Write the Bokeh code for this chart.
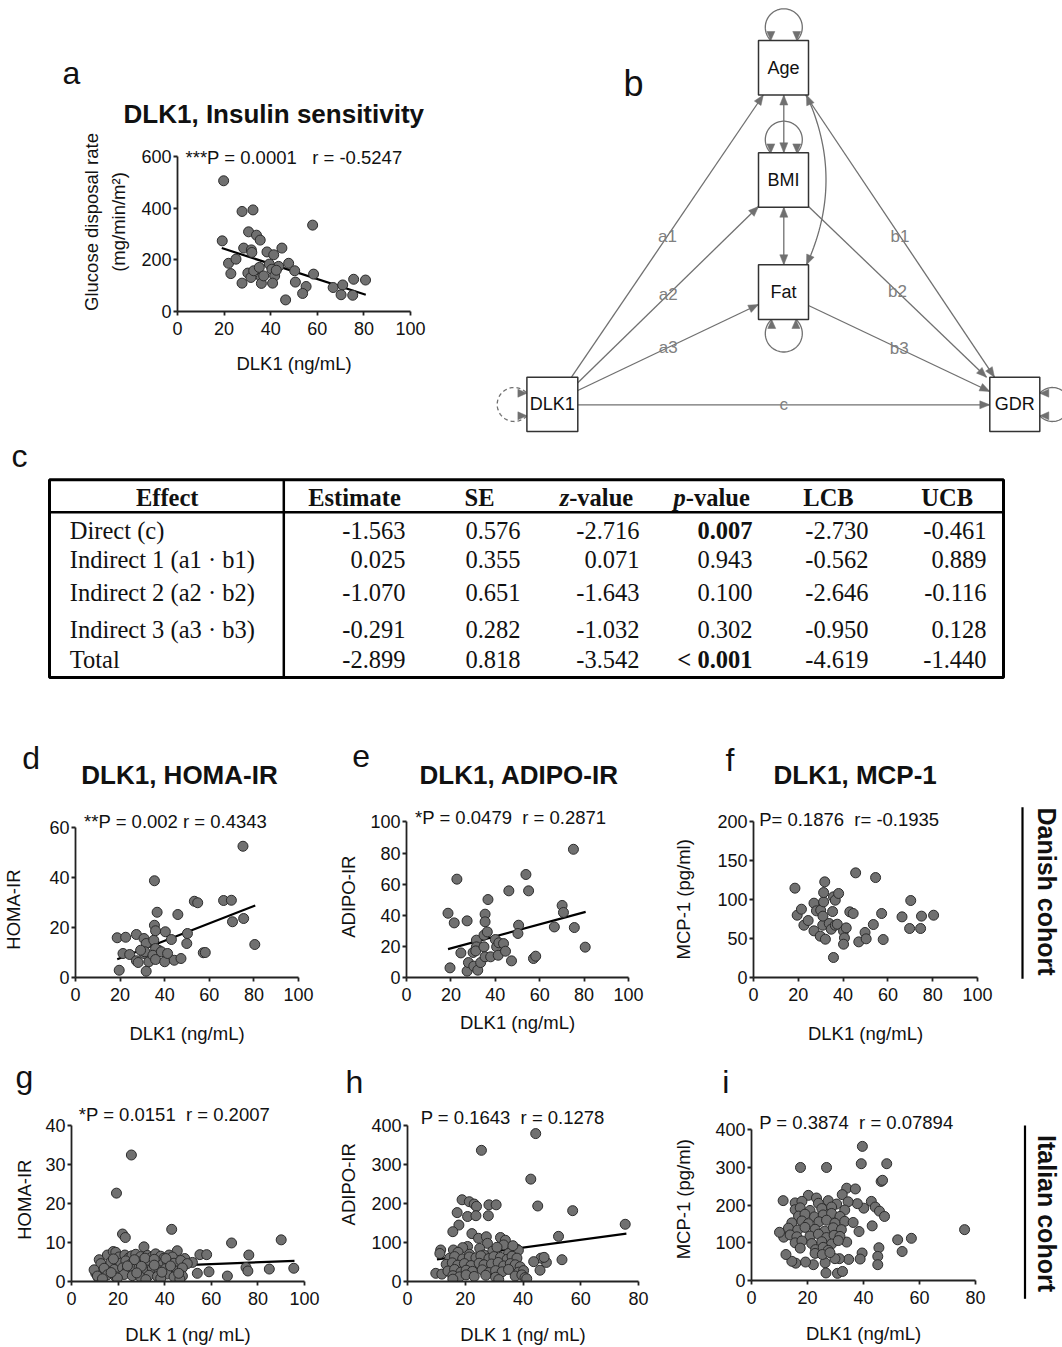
import math
import numpy as np
from bokeh.plotting import figure
from bokeh.models import Range1d, FixedTicker
from bokeh.layouts import column, row
from bokeh.embed import file_html
from bokeh.resources import INLINE
from bokeh.core.properties import value

SANS = "Liberation Sans"
SERIF = "Liberation Serif"
INK = "#111111"
DOT_FILL = "#707070"
DOT_LINE = "#2c2c2c"
EDGE = "#707070"
NB = "\u00a0"

# ---------------- data ----------------
# a: Danish cohort, DLK1 vs glucose disposal rate
a_x = [19.8, 27.7, 32.4, 30.5, 33.9, 35.5, 19.2, 58.0, 28.4, 31.7, 31.9, 38.4, 41.3, 44.8, 21.9,
       25.1, 22.9, 43.4, 47.7, 50.3, 58.4, 27.7, 30.2, 31.5, 32.7, 35.1, 36.0, 36.0, 37.0, 39.4,
       40.5, 41.7, 42.4, 40.8, 50.6, 55.2, 53.7, 46.4, 66.8, 70.9, 70.2, 75.2, 75.6, 80.7]
a_y = [507, 388, 394, 309, 296, 277, 274, 335, 246, 239, 229, 231, 220, 246, 187,
       203, 147, 175, 187, 158, 145, 110, 149, 132, 158, 171, 132, 109, 138, 184,
       164, 138, 160, 110, 114, 97, 70, 45, 93, 103, 65, 63, 125, 122]
a_fit_x = [19.0, 80.8]
a_fit_y = [246, 65]

# d: HOMA-IR (Danish)
d_x = [18.7, 22.5, 19.6, 21.3, 24.3, 27.3, 27.3, 28.1, 30.7, 30.7, 31.7, 31.7, 31.1, 32.9, 35.1,
       35.4, 35.4, 35.9, 36.6, 37.3, 35.9, 34.7, 35.9, 38.5, 40.3, 40.0, 41.3, 43.0, 44.3, 45.9,
       47.3, 50.2, 49.9, 53.3, 54.8, 57.3, 58.2, 66.4, 69.9, 70.4, 75.1, 75.4, 80.4, 29.2]
d_y = [15.9, 16.1, 2.9, 9.6, 9.2, 17.2, 6.7, 6.0, 15.6, 9.6, 13.6, 2.5, 10.3, 6.3, 14.9,
       38.7, 20.9, 18.7, 26.1, 10.9, 11.6, 8.9, 7.2, 10.3, 18.3, 6.3, 9.6, 15.2, 6.9, 25.2,
       7.6, 17.6, 13.6, 30.5, 29.9, 9.9, 10.0, 30.8, 30.9, 22.3, 52.5, 23.6, 13.2, 10.9]
d_fit_x = [18.7, 80.6]
d_fit_y = [7.3, 28.8]

# e: ADIPO-IR (Danish)
e_x = [18.7, 19.6, 21.5, 22.7, 24.5, 27.3, 27.3, 27.9, 30.0, 30.3, 31.5, 31.5, 31.2, 32.1, 33.4,
       34.9, 34.9, 35.4, 35.4, 36.4, 36.7, 35.4, 37.9, 40.0, 40.6, 41.3, 41.6, 43.7, 44.6, 46.1,
       47.3, 50.5, 50.2, 53.8, 55.0, 57.2, 58.2, 66.6, 70.1, 70.7, 75.2, 75.6, 80.5]
e_y = [41.3, 6.2, 35.1, 63.2, 15.8, 36.4, 4.1, 9.6, 16.1, 7.3, 24.0, 19.7, 17.1, 4.7, 9.6,
       19.7, 27.2, 40.7, 35.8, 29.3, 50.1, 13.3, 13.3, 24.4, 19.7, 14.3, 22.3, 21.8, 16.9, 55.7,
       10.7, 33.6, 28.3, 66.2, 55.7, 12.2, 13.7, 32.5, 46.3, 41.8, 82.4, 32.1, 19.5]
e_fit_x = [18.7, 80.7]
e_fit_y = [18.2, 42.2]

# f: MCP-1 (Danish)
f_x = [18.5, 19.5, 21.4, 22.5, 24.4, 27.0, 27.0, 28.1, 30.0, 29.8, 31.3, 31.3, 31.8, 32.1, 30.9,
       31.0, 33.8, 34.7, 35.3, 35.7, 36.5, 36.5, 37.4, 38.0, 35.7, 40.2, 40.6, 40.2, 41.4, 43.0,
       44.5, 45.6, 47.0, 49.8, 50.3, 53.5, 54.5, 57.2, 57.9, 66.3, 69.7, 70.2, 74.6, 75.0, 80.4]
f_y = [114.3, 79.7, 87.4, 66.9, 72.9, 95.1, 59.7, 85.3, 86.1, 52.9, 96.8, 108.7, 122.4, 49.0, 66.9,
       78.5, 69.1, 61.8, 84.4, 103.2, 98.9, 66.9, 68.2, 107.5, 25.6, 59.3, 50.7, 42.6, 63.5, 84.0,
       81.9, 133.9, 45.6, 57.6, 49.5, 67.8, 127.9, 81.9, 48.6, 77.6, 62.7, 98.5, 62.7, 78.5, 79.7]

# g: HOMA-IR (Italian)
g_x = ([25.7, 19.3, 21.9, 23.1, 43.0, 31.1, 90.0, 68.7, 76.1, 74.9, 75.7, 84.9, 95.4, 66.9, 59.0,
        54.0, 55.1, 58.0, 51.9, 48.6, 45.4, 11.9, 10.4, 11.6, 15.4, 17.9, 19.0]
       + [20.4, 22.9, 24.7, 25.9, 27.6, 29.7, 32.6, 34.3, 36.1, 38.3, 39.7, 41.9, 43.3]
       + [12.6, 16.9, 21.1, 23.3, 26.1, 28.3, 30.4, 33.3, 36.9, 39.0, 41.1, 44.0, 46.9, 49.7]
       + [9.7, 14.0, 18.3, 21.9, 24.0, 26.9, 29.0, 31.9, 34.7, 37.6, 40.4, 43.3, 45.4, 47.6]
       + [11.1, 15.4, 19.0, 22.6, 26.1, 29.7, 33.3, 36.9, 41.1, 44.0, 47.6]
       + [13.3, 19.7, 31.9, 38.3, 46.5]
       + [18.0, 27.0, 31.5, 35.5, 40.5, 24.0, 30.0, 35.5, 42.5, 17.0, 28.0, 38.8, 46.0])
g_y = ([32.5, 22.7, 12.2, 11.3, 13.4, 8.9, 10.7, 9.9, 6.8, 3.6, 2.7, 3.2, 3.4, 1.4, 2.5,
        2.1, 6.9, 6.9, 4.9, 5.9, 7.9, 5.6, 2.1, 0.9, 6.8, 7.7, 7.5]
       + [6.3, 6.8, 6.1, 6.6, 7.0, 6.4, 6.7, 6.2, 7.1, 6.5, 6.0, 6.8, 6.3]
       + [4.6, 5.0, 4.7, 5.3, 4.8, 5.1, 4.5, 5.2, 4.9, 4.4, 5.1, 4.7, 5.4, 4.6]
       + [3.0, 3.4, 3.1, 3.5, 2.9, 3.3, 3.6, 3.0, 3.4, 2.8, 3.3, 3.1, 2.7, 3.5]
       + [1.4, 1.7, 1.2, 1.8, 1.5, 1.1, 1.6, 1.3, 1.9, 1.2, 1.4]
       + [0.7, 0.9, 0.5, 0.8, 0.6]
       + [5.8, 5.6, 6.0, 5.7, 5.9, 4.0, 3.9, 4.2, 4.0, 2.3, 2.2, 2.4, 2.1])
g_fit_x = [10.4, 95.7]
g_fit_y = [3.3, 5.3]

# h: ADIPO-IR (Italian)
h_x = ([44.4, 25.6, 42.7, 45.1, 57.2, 75.4, 52.3, 53.5, 45.9, 48.1, 46.2, 43.7, 47.3, 18.9, 21.4,
        23.1, 23.9, 20.8, 23.7, 17.2, 17.8, 15.7, 28.2, 30.7, 28.0, 22.3, 24.6, 27.3, 32.2, 33.9,
        33.3, 27.7, 20.8, 19.1, 15.9, 11.5, 11.2, 37.9, 38.4, 9.8, 11.9]
       + [17.5, 25.0, 29.5, 31.0, 35.0, 21.5, 26.5, 36.5]
       + [14.6, 16.3, 19.1, 21.4, 23.7, 25.4, 28.2, 29.9, 32.2, 34.5, 36.2, 37.9]
       + [13.4, 15.5, 17.4, 19.7, 22.0, 24.8, 26.5, 29.1, 31.4, 33.3, 35.6, 37.3, 39.0]
       + [14.0, 16.3, 18.5, 20.3, 22.5, 25.9, 28.2, 30.5, 32.8, 35.0, 38.5, 40.2]
       + [15.7, 18.0, 20.3, 23.1, 27.1, 30.5, 37.3, 39.6, 40.7]
       + [15.7, 31.6, 41.3])
h_y = ([380, 337, 263, 194, 182, 147, 116, 56, 29, 49, 60, 51, 62, 210, 205,
        199, 193, 167, 169, 177, 145, 128, 197, 197, 169, 123, 111, 115, 113, 106,
        94, 98, 90, 87, 81, 81, 72, 83, 80, 21, 19]
       + [75, 85, 78, 88, 72, 70, 68, 92]
       + [60, 64, 58, 63, 61, 66, 59, 64, 62, 57, 65, 60]
       + [44, 48, 42, 46, 41, 47, 43, 45, 49, 40, 46, 43, 38]
       + [27, 31, 24, 29, 26, 30, 23, 28, 25, 31, 24, 28]
       + [15, 12, 17, 13, 16, 11, 14, 17, 10]
       + [6, 5, 7])
h_fit_x = [10.2, 75.8]
h_fit_y = [57, 123]

# i: MCP-1 (Italian)
i_x = ([39.6, 39.2, 48.3, 17.5, 26.8, 46.3, 46.8, 34.0, 37.1, 32.4, 42.8, 76.1, 52.2, 57.1, 53.8,
        45.5, 45.1, 45.1, 39.5, 38.8, 34.7, 43.1, 38.4, 34.0, 26.3, 30.7, 32.5, 31.4, 29.8, 26.6,
        22.1, 19.3, 15.8, 14.4, 12.3, 11.5, 10.0, 11.3, 20.3, 23.2, 44.2, 45.7, 47.5, 40.1, 37.8]
       + [15.6, 18.0, 23.9, 27.4, 30.4, 34.5]
       + [15.6, 17.4, 20.9, 25.1, 28.6, 33.3]
       + [16.8, 19.1, 22.5, 25.6, 28.6, 31.6]
       + [14.4, 18.0, 20.3, 24.1, 26.8, 29.8, 33.3, 36.3]
       + [13.2, 16.5, 19.1, 22.7, 26.2, 29.2, 32.1]
       + [13.8, 16.2, 20.9, 23.9, 26.8, 29.5, 31.6]
       + [15.6, 18.0, 21.5, 25.1, 28.6, 31.0]
       + [17.4, 22.9, 25.6, 27.4]
       + [22.7, 25.3, 28.0])
i_y = ([356, 310, 310, 300, 300, 263, 266, 245, 243, 228, 210, 135, 108, 112, 77,
        87, 64, 42, 73, 57, 56, 145, 130, 102, 47, 19, 24, 58, 58, 20,
        42, 49, 46, 51, 69, 115, 128, 212, 226, 219, 195, 184, 170, 192, 204]
       + [206, 210, 205, 212, 203, 209]
       + [188, 193, 186, 191, 195, 187]
       + [171, 176, 169, 174, 178, 170]
       + [153, 158, 151, 156, 160, 152, 157, 154]
       + [139, 134, 141, 136, 131, 140, 135]
       + [121, 116, 118, 123, 114, 120, 117]
       + [100, 105, 98, 103, 97, 106]
       + [86, 82, 88, 80]
       + [72, 69, 74])

# c: mediation table
effects = ["Direct (c)", "Indirect 1 (a1 \u00b7 b1)", "Indirect 2 (a2 \u00b7 b2)",
           "Indirect 3 (a3 \u00b7 b3)", "Total"]
estimate = ["-1.563", "0.025", "-1.070", "-0.291", "-2.899"]
se = ["0.576", "0.355", "0.651", "0.282", "0.818"]
zval = ["-2.716", "0.071", "-1.643", "-1.032", "-3.542"]
pval = ["0.007", "0.943", "0.100", "0.302", "< 0.001"]
p_bold = [True, False, False, False, True]
lcb = ["-2.730", "-0.562", "-2.646", "-0.950", "-4.619"]
ucb = ["-0.461", "0.889", "-0.116", "0.128", "-1.440"]

# b: path diagram
nodes = ["Age", "BMI", "Fat", "DLK1", "GDR"]
edges = [("DLK1", "Age", "a1"), ("DLK1", "BMI", "a2"), ("DLK1", "Fat", "a3"),
         ("Age", "GDR", "b1"), ("BMI", "GDR", "b2"), ("Fat", "GDR", "b3"),
         ("DLK1", "GDR", "c")]


# ---------------- helpers ----------------
def mid(baseline, size, k=0.33):
    return baseline - k * size


def canvas(x0, y0, w, h, flip=True):
    yr = Range1d(y0 + h, y0) if flip else Range1d(-(y0 + h), -y0)
    p = figure(width=w, height=h, x_range=Range1d(x0, x0 + w), y_range=yr,
               x_axis_type=None, y_axis_type=None, min_border=0,
               toolbar_location=None, output_backend="svg")
    p.title.visible = False
    p.outline_line_color = None
    p.xgrid.grid_line_color = None
    p.ygrid.grid_line_color = None
    p.background_fill_color = "white"
    p.border_fill_color = "white"
    return p


def put(p, X, B, text, size, font=SANS, style="normal", align="left", color=INK, k=0.33):
    p.text(x=[X], y=[mid(B, float(size[:-2]), k)], text=[text], text_font=value(font),
           text_font_size=size, text_font_style=style, text_color=color,
           text_align=align, text_baseline="middle")


def make_scatter(fig_box, L_px, R_px, B_px, xmax, top_val, top_px, xticks, yticks,
                 xlabel, ylabel, x_ls, y_ls, y_line_height=1.2):
    x0, y0, w, h = fig_box
    bl = int(round(L_px - x0)); br = int(round(x0 + w - R_px)); bb = int(round(y0 + h - B_px))
    L = x0 + bl; R = x0 + w - br; B = y0 + h - bb; T = y0
    yscale = (B_px - top_px) / top_val
    ymax = (B - T) / yscale
    p = figure(width=w, height=h, x_range=Range1d(0, xmax), y_range=Range1d(0, ymax),
               min_border_left=bl, min_border_right=br, min_border_top=0, min_border_bottom=bb,
               toolbar_location=None, output_backend="svg")
    p.title.visible = False
    p.outline_line_color = None
    p.xgrid.grid_line_color = None
    p.ygrid.grid_line_color = None
    p.background_fill_color = "white"
    p.border_fill_color = "white"
    p.xaxis.ticker = FixedTicker(ticks=xticks)
    p.yaxis.ticker = FixedTicker(ticks=yticks)
    p.xaxis.bounds = (0, xmax)
    p.yaxis.bounds = (0, top_val)
    for ax in (p.xaxis[0], p.yaxis[0]):
        ax.axis_line_width = 1.8
        ax.axis_line_color = "#222222"
        ax.major_tick_line_width = 1.8
        ax.major_tick_line_color = "#222222"
        ax.major_tick_in = 0
        ax.major_tick_out = 4
        ax.minor_tick_line_color = None
        ax.major_label_text_font = SANS
        ax.major_label_text_font_size = "18px"
        ax.major_label_text_color = INK
        ax.axis_label_text_font = SANS
        ax.axis_label_text_font_size = "18.5px"
        ax.axis_label_text_font_style = "normal"
        ax.axis_label_text_color = INK
    p.xaxis.major_label_standoff = 6
    p.yaxis.major_label_standoff = 2
    p.xaxis.axis_label = xlabel
    p.yaxis.axis_label = ylabel
    p.xaxis.axis_label_standoff = x_ls
    p.yaxis.axis_label_standoff = y_ls
    p.yaxis.axis_label_text_line_height = y_line_height

    def conv(X, Y):
        return (X - L) / (R - L) * xmax, (B - Y) / (B - T) * ymax
    return p, conv


def dots(p, xs, ys):
    p.scatter(xs, ys, size=10, marker="circle", fill_color=DOT_FILL,
              line_color=DOT_LINE, line_width=1)


def fit(p, xs, ys):
    p.line(xs, ys, line_color="black", line_width=2.2)


def ptext(p, conv, X, B, text, size="18.5px"):
    x, y = conv(X, mid(B, 18.5))
    p.text(x=[x], y=[y], text=[text], text_font=value(SANS), text_font_size=size,
           text_color=INK, text_align="left", text_baseline="middle")


def header(x0, y0, w, h, letter, lx, lb, title=None, tx=None, tb=None):
    p = canvas(x0, y0, w, h)
    put(p, lx, lb, letter, "32px")
    if title:
        put(p, tx, tb, title, "26px", style="bold", align="center")
    return p


def cohort(x0, y0, w, h, text, xc, yc, xl, ya, yb):
    p = canvas(x0, y0, w, h, flip=False)
    p.segment(x0=[xl], y0=[-ya], x1=[xl], y1=[-yb], line_color="black", line_width=2.2)
    p.text(x=[xc], y=[-yc], text=[text], text_font=value(SANS), text_font_size="25px",
           text_font_style="bold", text_color=INK, text_align="center",
           text_baseline="middle", angle=-math.pi / 2)
    return p


W = lambda p: column(p)
DLK = "DLK1 (ng/mL)"
DLK_SP = "DLK 1 (ng/ mL)"
S2 = " " + NB          # two visible spaces
S3 = " " + NB + NB     # three visible spaces

# ---------------- panel a ----------------
hdr_a = header(0, 0, 480, 132, "a", 62, 83.3, "DLK1, Insulin sensitivity", 273.3, 121.7)
pa, ca = make_scatter((0, 132, 480, 304), 177.3, 410, 310.7, 100, 600, 156,
                      [0, 20, 40, 60, 80, 100], [0, 200, 400, 600], DLK,
                      "Glucose disposal rate\n(mg/min/m\u00b2)", 15, 9, 1.3)
fit(pa, a_fit_x, a_fit_y)
dots(pa, a_x, a_y)
ptext(pa, ca, 185, 162.7, "***P = 0.0001" + S3 + "r = -0.5247")

# ---------------- panel b ----------------
pb = canvas(480, 0, 582, 436)
box = {"Age": (758, 808, 40, 94.5), "BMI": (758, 808, 152.3, 206.7),
       "Fat": (758, 808, 264.3, 319), "DLK1": (526.4, 577.3, 376.7, 431),
       "GDR": (989.3, 1039.3, 376.7, 431)}
ends = {("DLK1", "Age"): ((571, 376.7), (762.8, 94.5)),
        ("DLK1", "BMI"): ((577.3, 382.3), (758, 206)),
        ("DLK1", "Fat"): ((577.3, 390), (758, 304)),
        ("Age", "GDR"): ((805, 94.5), (994, 376.7)),
        ("BMI", "GDR"): ((808, 206), (986, 376.7)),
        ("Fat", "GDR"): ((808, 305), (989.3, 391)),
        ("DLK1", "GDR"): ((577.3, 404.3), (989.3, 404.3))}


def head(tip, frm, L=10, Wd=4):
    tx, ty = tip
    dx, dy = tx - frm[0], ty - frm[1]
    n = math.hypot(dx, dy)
    ux, uy = dx / n, dy / n
    bx, by = tx - ux * L, ty - uy * L
    px, py = -uy, ux
    return [tx, bx + px * Wd, bx - px * Wd], [ty, by + py * Wd, by - py * Wd]


line_xs, line_ys, hx, hy = [], [], [], []
lab_x, lab_y, lab_t = [], [], []
for s, t, name in edges:
    (x0, y0), (x1, y1) = ends[(s, t)]
    line_xs.append([x0, x1]); line_ys.append([y0, y1])
    a, b = head((x1, y1), (x0, y0)); hx.append(a); hy.append(b)
    lab_x.append((x0 + x1) / 2); lab_y.append((y0 + y1) / 2); lab_t.append(name)

for top, bot in (("Age", "BMI"), ("BMI", "Fat")):
    xm = 783.3
    y0, y1 = box[top][3], box[bot][2]
    line_xs.append([xm, xm]); line_ys.append([y0, y1])
    for tip, frm in (((xm, y0), (xm, y1)), ((xm, y1), (xm, y0))):
        a, b = head(tip, frm); hx.append(a); hy.append(b)

P0, C, P2 = (806.0, 94.5), (845.0, 179.4), (806.0, 264.3)
tt = np.linspace(0, 1, 50)
cx_ = (1 - tt) ** 2 * P0[0] + 2 * (1 - tt) * tt * C[0] + tt ** 2 * P2[0]
cy_ = (1 - tt) ** 2 * P0[1] + 2 * (1 - tt) * tt * C[1] + tt ** 2 * P2[1]
line_xs.append(list(cx_)); line_ys.append(list(cy_))
for tip, nxt in ((P0, (cx_[4], cy_[4])), (P2, (cx_[-5], cy_[-5]))):
    a, b = head(tip, nxt); hx.append(a); hy.append(b)


def arc(cx, cy, r, t0, t1, n=60):
    ts = np.radians(np.linspace(t0, t1, n))
    return list(cx + r * np.cos(ts)), list(cy + r * np.sin(ts))


loops = [(783.3, 26.8, 18.5, 134.5, 405.5, (0, -10)),
         (783.3, 139.2, 18.5, 134.5, 405.5, (0, -10)),
         (783.3, 333.0, 18.5, 229.2, -49.2, (0, 10)),
         (1052.0, 404.0, 17.0, 221.7, 498.3, (10, 0))]
for cx, cy, r, t0, t1, off in loops:
    xs, ys = arc(cx, cy, r, t0, t1)
    line_xs.append(xs); line_ys.append(ys)
    for k in (0, -1):
        a, b = head((xs[k], ys[k]), (xs[k] + off[0], ys[k] + off[1]), L=9, Wd=4)
        hx.append(a); hy.append(b)

dxs, dys = arc(513.7, 404.0, 17.0, 41.7, 318.3)
pb.line(dxs, dys, line_color=EDGE, line_width=1.3, line_dash="4 3")
for k in (0, -1):
    a, b = head((dxs[k], dys[k]), (dxs[k] - 10, dys[k]), L=9, Wd=4)
    hx.append(a); hy.append(b)

pb.multi_line(line_xs, line_ys, line_color=EDGE, line_width=1.3)
pb.patches(hx, hy, fill_color=EDGE, line_color=EDGE, line_width=0.5)
pb.quad(left=[box[n][0] for n in nodes], right=[box[n][1] for n in nodes],
        top=[box[n][2] for n in nodes], bottom=[box[n][3] for n in nodes],
        fill_color="white", line_color="#333333", line_width=1.5)
pb.text(x=[(box[n][0] + box[n][1]) / 2 for n in nodes],
        y=[(box[n][2] + box[n][3]) / 2 for n in nodes], text=nodes,
        text_font=value(SANS), text_font_size="18px", text_color=INK,
        text_align="center", text_baseline="middle")
pb.text(x=lab_x, y=lab_y, text=lab_t, text_font=value(SANS), text_font_size="17px",
        text_color="#808080", text_align="center", text_baseline="middle")
put(pb, 623, 95, "b", "36px")

# ---------------- panel c (table) ----------------
pc = canvas(0, 436, 1062, 254)
put(pc, 11, 466, "c", "32px")
pc.quad(left=[49], right=[1003], top=[479.3], bottom=[677], fill_color=None,
        line_color="black", line_width=3)
pc.segment(x0=[49, 283.3], y0=[511.7, 479.3], x1=[1003, 283.3], y1=[511.7, 677],
           line_color="black", line_width=2.5)

TFS = "24.5px"
rows_y = [538, 567, 600, 637, 667]
HEAD_Y = 505


def ttext(xs, ys, texts, align, style="normal"):
    pc.text(x=xs, y=[mid(y, 24.5) for y in ys], text=texts, text_font=value(SERIF),
            text_font_size=TFS, text_color=INK, text_align=align, text_baseline="middle",
            text_font_style=style)


ttext([166.7, 354, 479, 828, 946.7], [HEAD_Y] * 5,
      ["Effect", "Estimate", "SE", "LCB", "UCB"], "center", "bold")
ttext([568.7], [HEAD_Y], ["z"], "right", "bold italic")
ttext([568.7], [HEAD_Y], ["-value"], "left", "bold")
ttext([685.3], [HEAD_Y], ["p"], "right", "bold italic")
ttext([685.3], [HEAD_Y], ["-value"], "left", "bold")
ttext([69.3] * 5, rows_y, effects, "left")
for col_x, vals in ((405, estimate), (520, se), (639, zval), (868, lcb), (986, ucb)):
    ttext([col_x] * 5, rows_y, vals, "right")
ttext([752] * sum(p_bold), [y for y, b in zip(rows_y, p_bold) if b],
      [v for v, b in zip(pval, p_bold) if b], "right", "bold")
ttext([752] * (5 - sum(p_bold)), [y for y, b in zip(rows_y, p_bold) if not b],
      [v for v, b in zip(pval, p_bold) if not b], "right")

# ---------------- panels d, e, f ----------------
hdr_d = header(0, 690, 335, 110, "d", 21.7, 768.3, "DLK1, HOMA-IR", 179, 783.3)
pd_, cd = make_scatter((0, 800, 335, 250), 72.7, 297.7, 977.3, 100, 60, 827.3,
                       [0, 20, 40, 60, 80, 100], [0, 20, 40, 60], DLK,
                       "HOMA-IR" + NB * 8, 19, 22)
fit(pd_, d_fit_x, d_fit_y)
dots(pd_, d_x, d_y)
ptext(pd_, cd, 81.7, 827.3, "**P = 0.002 r = 0.4343")

hdr_e = header(335, 690, 335, 110, "e", 351.7, 766, "DLK1, ADIPO-IR", 518.7, 783.3)
pe, ce = make_scatter((335, 800, 335, 250), 403.3, 627.7, 977.3, 100, 100, 821.7,
                      [0, 20, 40, 60, 80, 100], [0, 20, 40, 60, 80, 100], DLK,
                      "ADIPO-IR" + NB * 3, 8, 8)
fit(pe, e_fit_x, e_fit_y)
dots(pe, e_x, e_y)
ptext(pe, ce, 411.7, 823.3, "*P = 0.0479" + S2 + "r = 0.2871")

hdr_f = header(670, 690, 392, 110, "f", 725, 770, "DLK1, MCP-1", 854.7, 783.3)
pf, cf = make_scatter((670, 800, 335, 250), 751, 976.7, 977.3, 100, 200, 821,
                      [0, 20, 40, 60, 80, 100], [0, 50, 100, 150, 200], DLK,
                      "MCP-1 (pg/ml)" + NB * 4, 19, 20)
dots(pf, f_x, f_y)
ptext(pf, cf, 756.7, 825, "P= 0.1876" + S2 + "r= -0.1935")
coh_f = cohort(1005, 800, 57, 250, "Danish cohort", 1046.5, 891, 1022, 806.7, 978.3)

# ---------------- panels g, h, i ----------------
hdr_g = header(0, 1050, 335, 52, "g", 15, 1086.7)
pg, cg = make_scatter((0, 1102, 335, 245), 70.7, 304, 1280.7, 100, 40, 1125,
                      [0, 20, 40, 60, 80, 100], [0, 10, 20, 30, 40], DLK_SP,
                      "HOMA-IR" + NB * 3, 16, 7)
fit(pg, g_fit_x, g_fit_y)
dots(pg, g_x, g_y)
ptext(pg, cg, 78.3, 1120, "*P = 0.0151" + S2 + "r = 0.2007")

hdr_h = header(335, 1050, 335, 52, "h", 345, 1091.7)
ph, ch = make_scatter((335, 1102, 335, 245), 404, 638.3, 1280.7, 80, 400, 1125,
                      [0, 20, 40, 60, 80], [0, 100, 200, 300, 400], DLK_SP,
                      NB * 3 + "ADIPO-IR", 16, 9)
fit(ph, h_fit_x, h_fit_y)
dots(ph, h_x, h_y)
ptext(ph, ch, 417.3, 1122.7, "P = 0.1643" + S2 + "r = 0.1278")

hdr_i = header(670, 1050, 392, 52, "i", 721.7, 1091.7)
pi_, ci = make_scatter((670, 1102, 335, 245), 749.3, 975, 1280, 80, 400, 1129.3,
                       [0, 20, 40, 60, 80], [0, 100, 200, 300, 400], DLK,
                       "MCP-1 (pg/ml)" + NB * 3, 16, 18)
dots(pi_, i_x, i_y)
ptext(pi_, ci, 756.7, 1128.3, "P = 0.3874" + S2 + "r = 0.07894")
coh_i = cohort(1005, 1102, 57, 245, "Italian cohort", 1046.5, 1213, 1024.5, 1125, 1298.3)

row1 = row(column(W(hdr_a), W(pa)), W(pb))
row3 = row(column(W(hdr_d), W(pd_)), column(W(hdr_e), W(pe)),
           column(W(hdr_f), row(W(pf), W(coh_f))))
row4 = row(column(W(hdr_g), W(pg)), column(W(hdr_h), W(ph)),
           column(W(hdr_i), row(W(pi_), W(coh_i))))
layout = column(row1, W(pc), row3, row4)
open("out.html", "w").write(file_html(layout, INLINE))
